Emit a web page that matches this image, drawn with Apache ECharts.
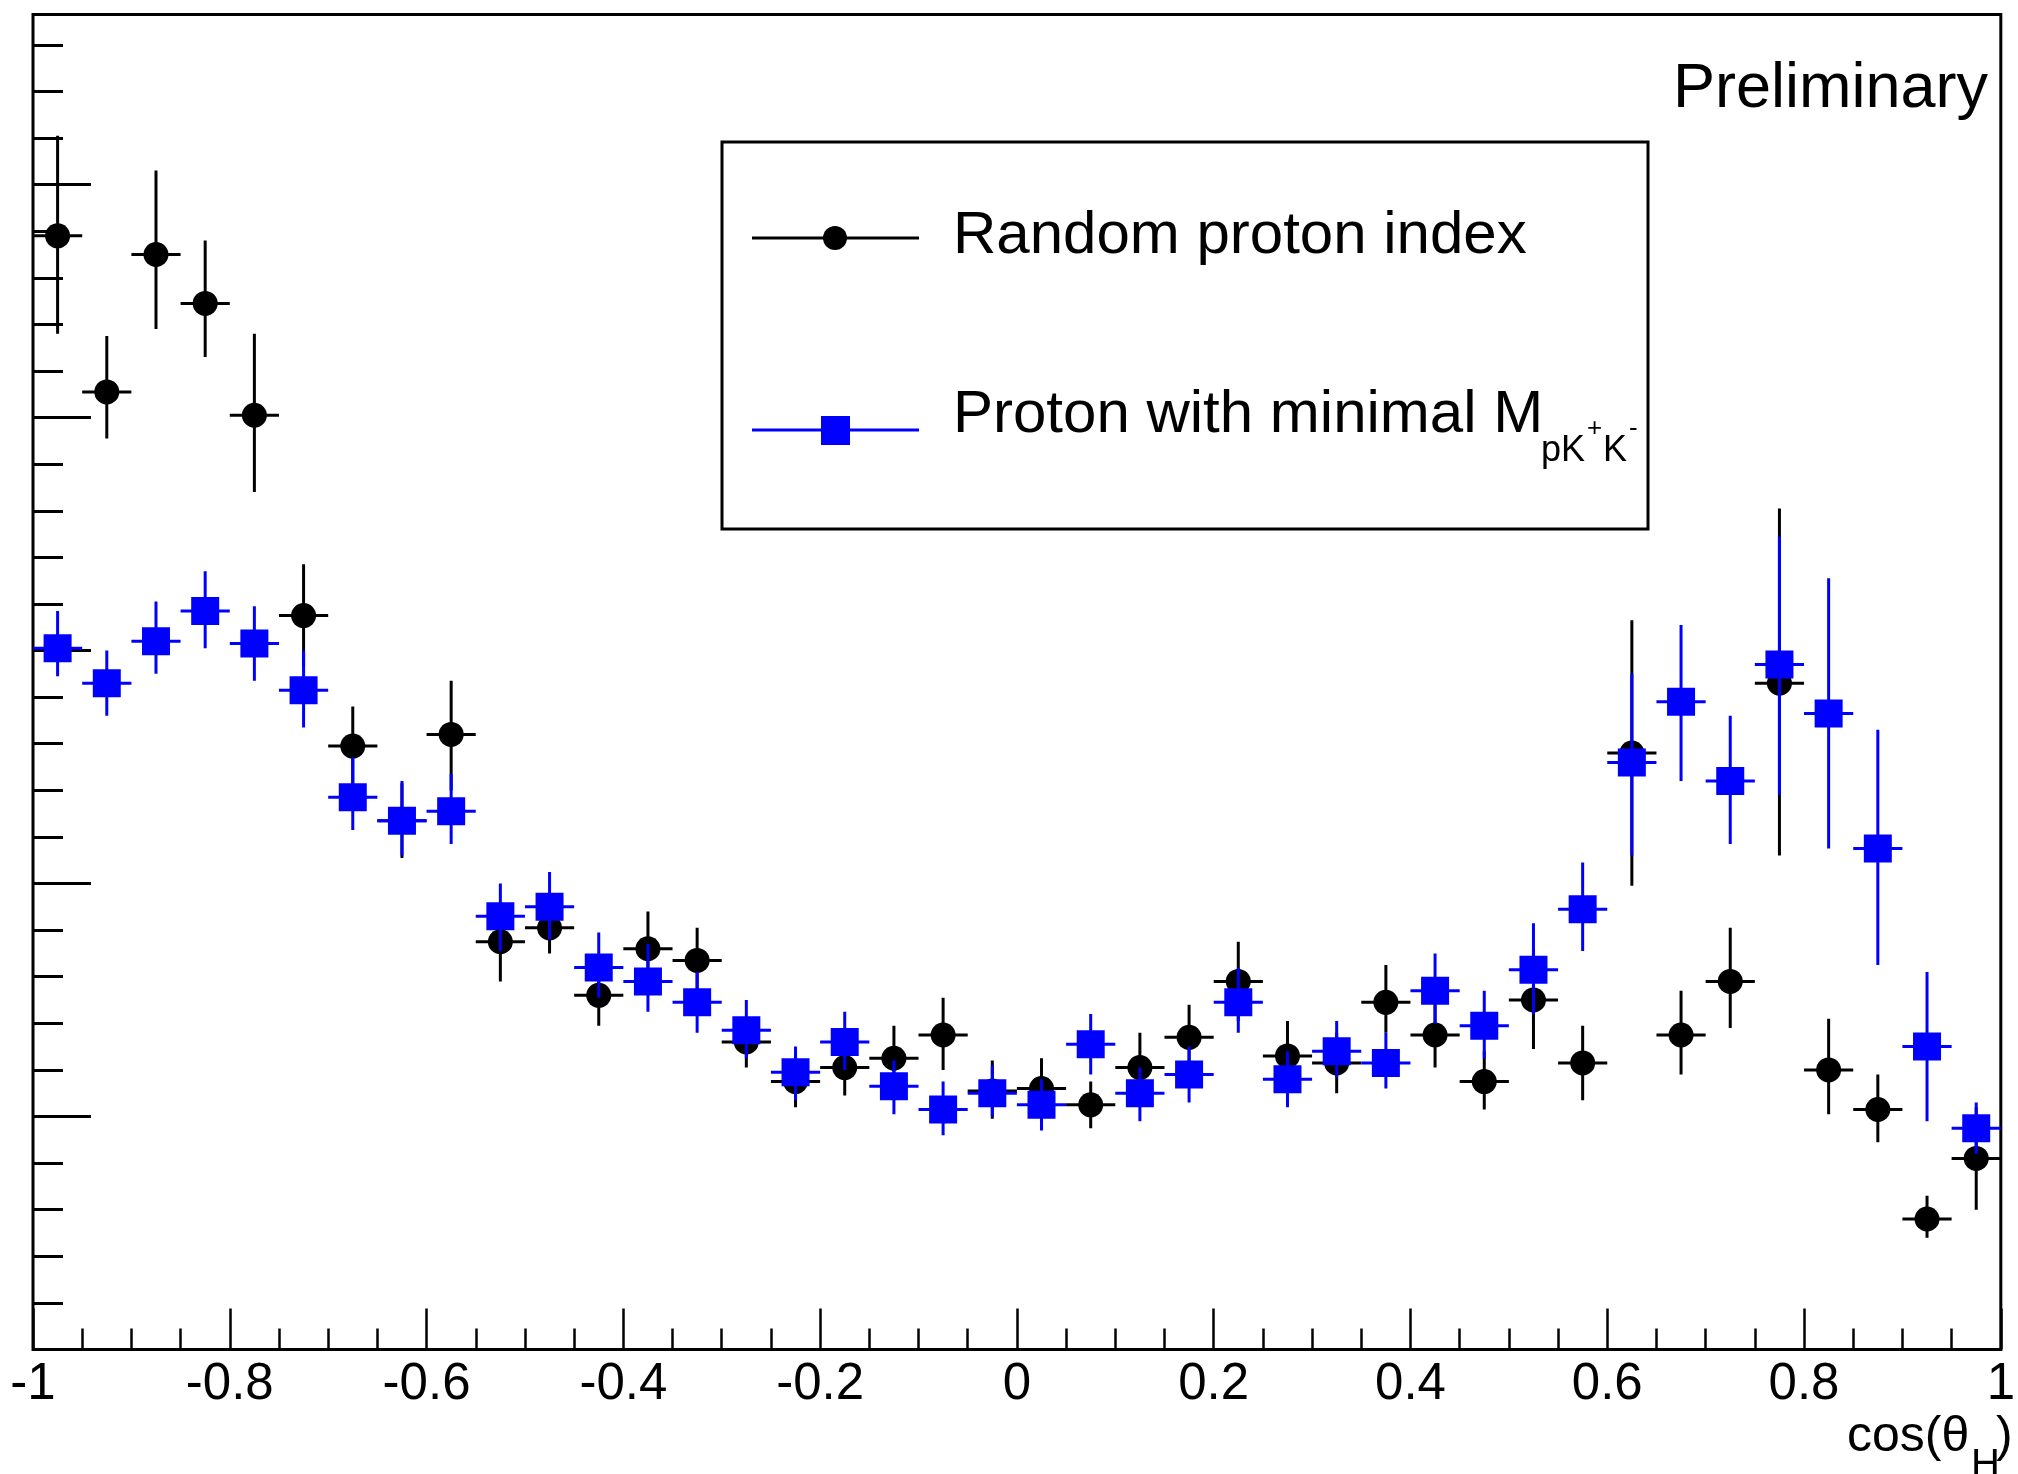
<!DOCTYPE html>
<html>
<head>
<meta charset="utf-8">
<title>cos(theta_H)</title>
<script src="https://cdn.jsdelivr.net/npm/echarts@6/dist/echarts.min.js"></script>
<style>
  body { margin: 0; background: #fff; }
  #chart { width: 2018px; height: 1474px; }
</style>
</head>
<body>
<div id="chart"></div>
<script>
// bin centres in cos(theta_H)
var binCenters = [-0.975, -0.925, -0.875, -0.825, -0.775, -0.725, -0.675, -0.625, -0.575, -0.525,
                  -0.475, -0.425, -0.375, -0.325, -0.275, -0.225, -0.175, -0.125, -0.075, -0.025,
                   0.025,  0.075,  0.125,  0.175,  0.225,  0.275,  0.325,  0.375,  0.425,  0.475,
                   0.525,  0.575,  0.625,  0.675,  0.725,  0.775,  0.825,  0.875,  0.925,  0.975];

// "Random proton index" (black)
var randomVal = [478, 411, 470, 449, 401, 315, 259, 227, 264, 175,
                 181, 152, 172, 167, 132, 115, 121, 125, 135, 111,
                 112, 105, 121, 134, 158, 126, 123, 149, 135, 115,
                 150, 123, 256, 135, 158, 286, 120, 103,  56,  82];
var randomLo  = [436, 391, 438, 426, 368, 293, 241, 211, 240, 158,
                 170, 139, 156, 154, 121, 104, 109, 110, 120,  99,
                 100,  95, 107, 120, 141, 111, 110, 136, 121, 103,
                 129, 107, 199, 118, 138, 212, 101,  89,  48,  60];
var randomHi  = [521, 435, 506, 476, 436, 337, 276, 243, 287, 192,
                 193, 165, 188, 181, 143, 127, 134, 139, 151, 124,
                 125, 115, 136, 148, 175, 141, 136, 165, 150, 128,
                 172, 139, 313, 154, 181, 361, 142, 118,  66, 104];

// "Proton with minimal M_pK+K-" (blue)
var minimalVal = [301, 286, 304, 317, 303, 283, 237, 227, 231, 186,
                  190, 164, 158, 149, 137, 119, 132, 113, 103, 110,
                  105, 131, 110, 118, 149, 116, 128, 123, 154, 139,
                  163, 189, 252, 278, 244, 294, 273, 215, 130,  95];
var minimalLo  = [289, 272, 290, 301, 287, 267, 223, 212, 217, 171,
                  176, 151, 145, 136, 125, 107, 120, 101,  92, 100,
                   94, 118,  98, 106, 136, 104, 117, 112, 140, 125,
                  144, 171, 212, 244, 217, 238, 215, 165,  98,  84];
var minimalHi  = [317, 300, 321, 334, 319, 300, 254, 244, 247, 200,
                  205, 179, 174, 162, 150, 130, 145, 124, 115, 122,
                  116, 144, 121, 130, 164, 128, 141, 136, 170, 154,
                  183, 209, 290, 311, 272, 349, 331, 266, 162, 106];

var halfBin = 0.025;
var FONT = '"Liberation Sans", Arial, sans-serif';

function toData(val, lo, hi) {
  return binCenters.map(function (x, i) { return [x, val[i], lo[i], hi[i]]; });
}

function makeRenderer(color, marker) {
  return function (params, api) {
    var x = api.value(0), y = api.value(1);
    var c = api.coord([x, y]);
    var l = api.coord([x - halfBin, y]);
    var r = api.coord([x + halfBin, y]);
    var t = api.coord([x, api.value(3)]);
    var b = api.coord([x, api.value(2)]);
    var ls = { stroke: color, lineWidth: 3 };
    var mark = marker === 'circle'
      ? { type: 'circle', shape: { cx: c[0], cy: c[1], r: 12.5 }, style: { fill: color } }
      : { type: 'rect', shape: { x: c[0] - 14, y: c[1] - 14, width: 28, height: 28 }, style: { fill: color } };
    return {
      type: 'group',
      children: [
        { type: 'line', shape: { x1: l[0], y1: c[1], x2: r[0], y2: c[1] }, style: ls },
        { type: 'line', shape: { x1: c[0], y1: t[1], x2: c[0], y2: b[1] }, style: ls },
        mark
      ]
    };
  };
}

function txt(str, x, y, size, align) {
  return {
    type: 'text', x: x, y: y, z: 100,
    style: {
      text: str, font: size + 'px ' + FONT, fill: '#000',
      align: align || 'left', verticalAlign: 'middle',
      textAlign: align || 'left', textVerticalAlign: 'middle'
    }
  };
}

var chart = echarts.init(document.getElementById('chart'));
var tickStyle = { color: '#000', width: 2.5 };
var option = {
  animation: false,
  backgroundColor: '#fff',
  grid: { left: 33, right: 3, top: 14.5, bottom: 124.5, show: true,
          borderColor: '#000', borderWidth: 3, backgroundColor: 'transparent' },
  xAxis: {
    type: 'value', min: -1, max: 1, interval: 0.2,
    axisLine: { show: false, onZero: false },
    splitLine: { show: false },
    axisTick: { inside: true, length: 41, lineStyle: tickStyle },
    minorTick: { show: true, splitNumber: 4, length: 21, lineStyle: tickStyle },
    axisLabel: { margin: 10, fontSize: 51, fontFamily: FONT, color: '#000',
                 showMinLabel: true, showMaxLabel: true, hideOverlap: false }
  },
  yAxis: [{
    type: 'value', min: 0, max: 573, interval: 100, position: 'left',
    axisLine: { show: false, onZero: false }, splitLine: { show: false }, axisLabel: { show: false },
    axisTick: { inside: true, length: 58, lineStyle: { color: '#000', width: 3 } }
  }, {
    type: 'value', min: 0, max: 573, interval: 20, position: 'left',
    axisLine: { show: false, onZero: false }, splitLine: { show: false }, axisLabel: { show: false },
    axisTick: { inside: true, length: 30, lineStyle: { color: '#000', width: 3 } }
  }],
  series: [{
    name: 'Random proton index', type: 'custom', clip: true, yAxisIndex: 0,
    encode: { x: 0, y: [1, 2, 3] },
    renderItem: makeRenderer('#000000', 'circle'),
    data: toData(randomVal, randomLo, randomHi)
  }, {
    name: 'Proton with minimal M', type: 'custom', clip: true, yAxisIndex: 0,
    encode: { x: 0, y: [1, 2, 3] },
    renderItem: makeRenderer('#0000ff', 'square'),
    data: toData(minimalVal, minimalLo, minimalHi)
  }],
  graphic: [
    // legend box
    { type: 'rect', z: 90, shape: { x: 722, y: 142, width: 926, height: 387 },
      style: { fill: '#fff', stroke: '#000', lineWidth: 3 } },
    { type: 'line', z: 95, shape: { x1: 752, y1: 238, x2: 919, y2: 238 }, style: { stroke: '#000', lineWidth: 3 } },
    { type: 'circle', z: 96, shape: { cx: 835, cy: 238, r: 12 }, style: { fill: '#000' } },
    txt('Random proton index', 953, 236, 60),
    { type: 'line', z: 95, shape: { x1: 752, y1: 430, x2: 919, y2: 430 }, style: { stroke: '#0000ff', lineWidth: 3 } },
    { type: 'rect', z: 96, shape: { x: 821, y: 416, width: 29, height: 29 }, style: { fill: '#0000ff' } },
    txt('Proton with minimal M', 953, 415, 60),
    txt('pK', 1541, 451, 36),
    txt('+', 1587, 429, 26),
    txt('K', 1603, 451, 36),
    txt('-', 1629, 429, 26),
    // label
    txt('Preliminary', 1988, 90, 63, 'right'),
    // x axis title
    txt('cos(\u03b8', 1847, 1437, 50),
    txt('H', 1971, 1466, 40),
    txt(')', 1996, 1437, 50)
  ]
};
chart.setOption(option);
</script>
</body>
</html>
